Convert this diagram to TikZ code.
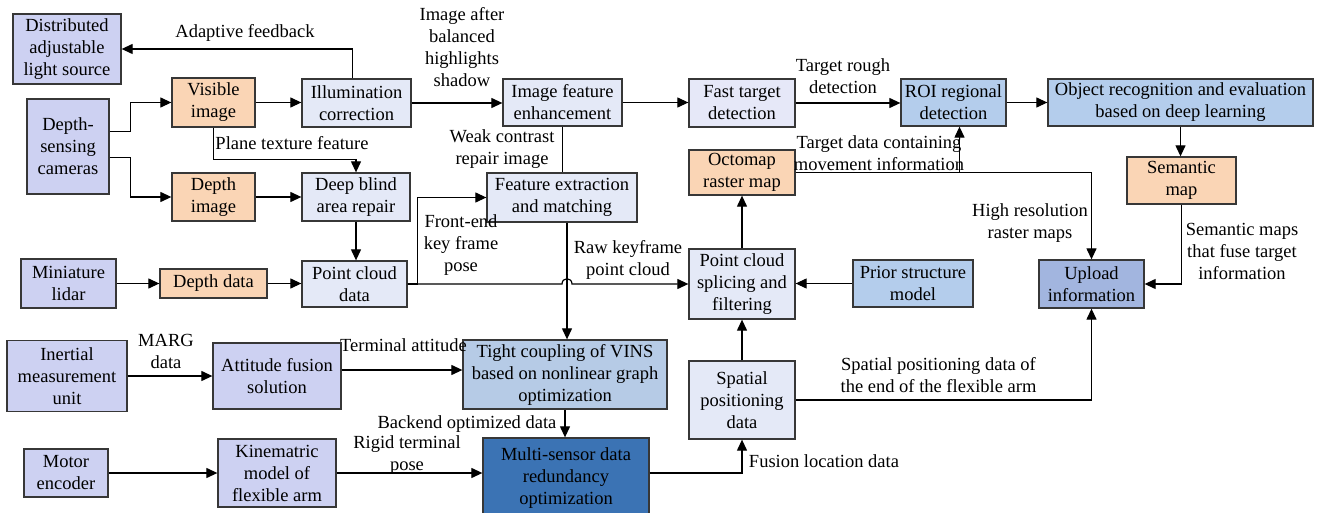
\documentclass[tikz,border=0pt]{standalone}
\usepackage{fontspec}
\setmainfont{Liberation Serif}
\usetikzlibrary{arrows.meta}
\definecolor{lav}{RGB}{205,209,242}
\definecolor{peach}{RGB}{250,213,181}
\definecolor{pale}{RGB}{228,233,247}
\definecolor{palev}{RGB}{230,232,248}
\definecolor{lblue}{RGB}{180,205,236}
\definecolor{tblue}{RGB}{182,203,230}
\definecolor{upblue}{RGB}{162,181,223}
\definecolor{dblue}{RGB}{59,115,180}
\definecolor{bordc}{RGB}{55,55,55}
\newcommand\figfont{\fontsize{18.5}{22}\selectfont}
\begin{document}
\begin{tikzpicture}[x=1pt,y=-1pt,
  box/.style={draw=bordc, line width=1.3pt, inner sep=0pt, align=center, font=\figfont},
  sz/.style 2 args={minimum width=#1pt, minimum height=#2pt},
  arr/.style={line width=1.2pt, -{Triangle[length=11pt,width=10pt]}},
  ln/.style={line width=1.2pt},
  lbl/.style={align=center, inner sep=0pt, font=\figfont}]
\useasboundingbox (0,0) rectangle (1319,513);
\fill[white] (0,0) rectangle (1319,513);

% boxes
\node[box, fill=lav, sz={108}{70}] (dist) at (67,49) {Distributed\\adjustable\\light source};
\node[box, fill=lav, sz={82}{95}] (cam) at (68,146.5) {Depth-\\sensing\\cameras};
\node[box, fill=peach, sz={83}{49}] (vis) at (213.5,102.5) {Visible\\image};
\node[box, fill=pale, sz={109}{48}] (illum) at (356.5,103) {Illumination\\correction};
\node[box, fill=peach, sz={83}{48}] (dimg) at (213.5,197) {Depth\\image};
\node[box, fill=pale, sz={108}{48}] (blind) at (356,197) {Deep blind\\area repair};
\node[box, fill=pale, sz={105}{46}] (pcd) at (354.5,284) {Point cloud\\data};
\node[box, fill=pale, sz={150}{49}] (feat) at (562,197.5) {Feature extraction\\and matching};
\node[box, fill=pale, sz={119}{47}] (enh) at (562.5,102.5) {Image feature\\enhancement};
\node[box, fill=palev, sz={106}{48}] (fast) at (742,103) {Fast target\\detection};
\node[box, fill=peach, sz={106}{45}] (octo) at (742,172.5) {Octomap\\raster map};
\node[box, fill=lblue, sz={105}{47}] (roi) at (953.5,102.5) {ROI regional\\detection};
\node[box, fill=lblue, sz={265}{47}] (obj) at (1180.5,102.5) {Object recognition and evaluation\\based on deep learning};
\node[box, fill=peach, sz={109}{47}] (sem) at (1181.5,180.5) {Semantic\\map};
\node[box, fill=upblue, sz={105}{48}] (upl) at (1091.5,284) {Upload\\information};
\node[box, fill=lblue, sz={120}{47}] (prior) at (913,283.5) {Prior structure\\model};
\node[box, fill=pale, sz={106}{70}] (splice) at (742,284) {Point cloud\\splicing and\\filtering};
\node[box, fill=lav, sz={95}{49}] (lidar) at (68.5,283.5) {Miniature\\lidar};
\node[box, fill=peach, sz={107}{29}] (ddata) at (213.5,283.5) {Depth data};
\node[box, fill=lav, sz={120}{71}] (imu) at (67,376) {Inertial\\measurement\\unit};
\node[box, fill=lav, sz={128}{66}] (att) at (277,376) {Attitude fusion\\solution};
\node[box, fill=lav, sz={84}{48}] (motor) at (66,473) {Motor\\encoder};
\node[box, fill=lav, sz={118}{68}] (kin) at (277,473) {Kinematric\\model of\\flexible arm};
\node[box, fill=tblue, sz={204}{69}] (tight) at (565,374.5) {Tight coupling of VINS\\based on nonlinear graph\\optimization};
\node[box, fill=dblue, sz={166}{80}] (multi) at (566,478) {Multi-sensor data\\redundancy\\optimization};
\node[box, fill=pale, sz={106}{78}] (spatial) at (742,400) {Spatial\\positioning\\data};

% labels
\node[lbl] (l1) at (245,33) {Adaptive feedback};
\node[lbl] (l2) at (462,47) {Image after\\balanced\\highlights\\shadow};
\node[lbl] (l3) at (292,143) {Plane texture feature};
\node[lbl] (l4) at (502,149) {Weak contrast\\repair image};
\node[lbl] (l5) at (843,76) {Target rough\\detection};
\node[lbl] (l6) at (879,153) {Target data containing\\movement information};
\node[lbl] (l7) at (1030,223) {High resolution\\raster maps};
\node[lbl] (l8) at (1242,251) {Semantic maps\\that fuse target\\information};
\node[lbl] (l9) at (461,245) {Front-end\\key frame\\pose};
\node[lbl] (l10) at (628,260) {Raw keyframe\\point cloud};
\node[lbl] (l11) at (166,351) {MARG\\data};
\node[lbl] (l12) at (403.5,345) {Terminal attitude};
\node[lbl] (l13) at (467,424) {Backend optimized data};
\node[lbl] (l14) at (407,455) {Rigid terminal\\pose};
\node[lbl] (l15) at (824,461) {Fusion location data};
\node[lbl] (l16) at (938.5,375) {Spatial positioning data of\\the end of the flexible arm};

% connectors
\draw[arr] ([xshift=-4pt]illum.north) |- (dist.east);
\draw[arr] ([yshift=15pt]cam.east) -- ++(21,0) |- (vis.west);
\draw[arr] ([yshift=-11pt]cam.east) -- ++(21,0) |- (dimg.west);
\draw[arr] (vis.east) -- (vis.east -| illum.west);
\draw[arr] (vis.south) -- ++(0,32) -| (blind.north);
\draw[arr] (dimg.east) -- (dimg.east -| blind.west);
\draw[arr] (blind.south) -- (blind.south |- pcd.north);
\draw[arr] (illum.east) -- (illum.east -| enh.west);
\draw[arr] (enh.east) -- (enh.east -| fast.west);
\draw[arr] (fast.east) -- (fast.east -| roi.west);
\draw[arr] (roi.east) -- (roi.east -| obj.west);
\draw[arr] (obj.south) -- (obj.south |- sem.north);
\draw[arr] (sem.south) |- (upl.east);
\draw[ln] (enh.south) -- (enh.south |- feat.north);
\draw[arr] (pcd.east) -- ++(10,0) |- (feat.west);
\coordinate (hop) at ([xshift=5pt]feat.south |- pcd.east);
\draw[arr] (pcd.east) -- ([xshift=-5pt]hop) .. controls ([xshift=-5pt,yshift=7pt]hop) and ([xshift=5pt,yshift=7pt]hop) .. ([xshift=5pt]hop) -- (splice.west);
\draw[arr] ([xshift=5pt]feat.south) -- ([xshift=5pt]feat.south |- tight.north);
\draw[arr] (octo.east) -| (upl.north);
\draw[arr] ([xshift=6pt]roi.south |- octo.east) -- ([xshift=6pt]roi.south);
\draw[arr] (splice.north) -- (octo.south);
\draw[arr] (prior.west) -- (prior.west -| splice.east);
\draw[arr] (lidar.east) -- (lidar.east -| ddata.west);
\draw[arr] (ddata.east) -- (ddata.east -| pcd.west);
\draw[arr] (imu.east) -- (imu.east -| att.west);
\draw[arr] ([yshift=6pt]att.east) -- ([yshift=6pt]att.east -| tight.west);
\draw[arr] (tight.south) -- (tight.south |- multi.north);
\draw[arr] (motor.east) -- (motor.east -| kin.west);
\draw[arr] (kin.east) -- (kin.east -| multi.west);
\draw[arr] (kin.east -| multi.east) -| (spatial.south);
\draw[arr] (spatial.north) -- (splice.south);
\draw[arr] (spatial.east) -| (upl.south);
\end{tikzpicture}
\end{document}
